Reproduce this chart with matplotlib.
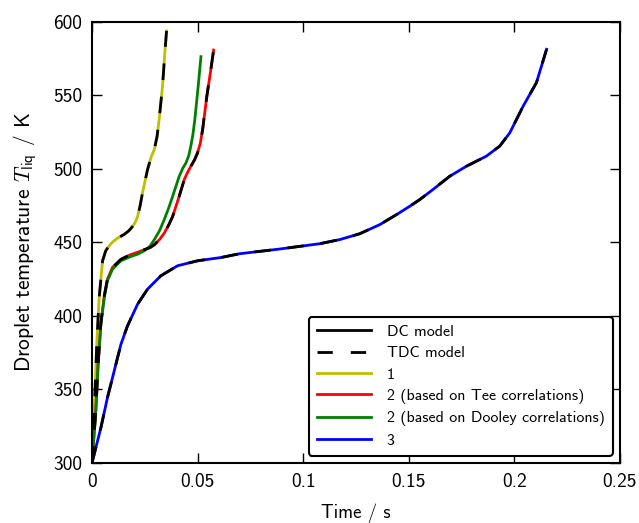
import matplotlib

matplotlib.use("Agg")
import matplotlib.pyplot as plt
from matplotlib.lines import Line2D

plt.rcParams["font.family"] = ["cmss10", "DejaVu Sans"]
plt.rcParams["mathtext.fontset"] = "custom"
plt.rcParams["mathtext.rm"] = "cmss10"
plt.rcParams["mathtext.it"] = "cmmi10"
plt.rcParams["axes.unicode_minus"] = False
plt.rcParams["lines.scale_dashes"] = False

# case 1
t1 = [0, 0.0013, 0.0023, 0.0034, 0.0050, 0.0065, 0.0080, 0.0097, 0.0120,
      0.0153, 0.0175, 0.0192, 0.0206, 0.0216, 0.0228, 0.0239, 0.0263,
      0.0280, 0.0295, 0.0308, 0.0318, 0.0334, 0.0345, 0.0353]
T1 = [300, 344.3, 383, 412.5, 437.5, 444.3, 447.5, 450.2, 452.8,
      455.5, 458, 460.9, 464, 467.7, 475, 483.7, 499.6,
      508, 513.2, 522, 533.7, 556.4, 579.1, 593.9]

# case 2, Tee correlations
t2a = [0, 0.0018, 0.0029, 0.0042, 0.0058, 0.0073, 0.0097, 0.0137, 0.0180,
       0.0216, 0.0247, 0.0275, 0.0295, 0.0320, 0.0342, 0.0362, 0.0382,
       0.0413, 0.0437, 0.0452, 0.0468, 0.0485, 0.0500, 0.0513, 0.0524,
       0.0544, 0.0563, 0.0576]
T2a = [300, 335.5, 367.5, 395, 413.5, 425, 433, 438.5, 441.5,
       443.3, 445, 446.5, 448.4, 452, 456.3, 461.5, 467.7,
       481.4, 492.8, 497.5, 501.8, 506, 511, 517.5, 526.9,
       549.6, 567.8, 580.9]

# case 2, Dooley correlations
t2b = [0, 0.0018, 0.0029, 0.0042, 0.0058, 0.0073, 0.0097, 0.0137, 0.0180,
       0.0216, 0.0250, 0.0275, 0.0295, 0.0320, 0.0342, 0.0362, 0.0382,
       0.0413, 0.0430, 0.0445, 0.0458, 0.0468, 0.0478, 0.0487, 0.0503,
       0.0516]
T2b = [300, 335.2, 367, 394.3, 412.5, 423.9, 431.8, 437.5, 440.2,
       442, 444.5, 447.5, 451.9, 458, 465.5, 473, 481.4,
       495, 500.5, 504.1, 509, 515.5, 523.5, 533.7, 556.4,
       576.4]

# case 3
t3 = [0, 0.0042, 0.0073, 0.0105, 0.0137, 0.0168, 0.0216, 0.0263, 0.0326,
      0.0405, 0.0500, 0.0610, 0.0699, 0.0794, 0.0889, 0.0983, 0.1078,
      0.1173, 0.1268, 0.1363, 0.1442, 0.1505, 0.1552, 0.1615, 0.1694,
      0.1773, 0.1868, 0.1931, 0.1979, 0.2042, 0.2105, 0.2153]
T3 = [300, 323.9, 344.3, 362.5, 380.7, 393.2, 408, 418.2, 427.3,
      434.1, 437.5, 439.7, 442.3, 443.9, 445.5, 447.3, 449.1,
      451.9, 455.9, 462.1, 468.9, 474.6, 479.1, 486, 495,
      501.8, 508.7, 515.5, 524.6, 542.7, 558.7, 581.4]

labels = ["DC model", "TDC model", "1", "2 (based on Tee correlations)",
          "2 (based on Dooley correlations)", "3"]

fig = plt.figure(figsize=(6.39, 5.23), dpi=100)
ax = fig.add_axes([0.144, 0.115, 0.826, 0.843])

dash = (12, 12)
lw = 2.0
ax.plot(t1, T1, color="y", lw=lw)
ax.plot(t2a, T2a, color="r", lw=lw)
ax.plot(t2b, T2b, color="g", lw=lw)
ax.plot(t3, T3, color="b", lw=lw)
for t, T in [(t1, T1), (t2a, T2a), (t3, T3)]:
    ax.plot(t, T, color="k", lw=lw, dashes=dash)

handles = [
    Line2D([], [], color="k", lw=lw),
    Line2D([], [], color="k", lw=lw, dashes=(11, 13)),
    Line2D([], [], color="y", lw=lw),
    Line2D([], [], color="r", lw=lw),
    Line2D([], [], color="g", lw=lw),
    Line2D([], [], color="b", lw=lw),
]
leg = ax.legend(handles, labels, loc="lower right", fontsize=11.5,
                handlelength=3.4, handletextpad=1.0, labelspacing=0.45,
                borderaxespad=0.45, borderpad=0.5,
                fancybox=True, framealpha=1)
leg.get_frame().set_edgecolor("k")
leg.get_frame().set_linewidth(1.5)

ax.set_xlim(0, 0.25)
ax.set_ylim(300, 600)
ax.set_xticks([0, 0.05, 0.1, 0.15, 0.2, 0.25])
ax.set_xticklabels(["0", "0.05", "0.1", "0.15", "0.2", "0.25"])
ax.set_yticks([300, 350, 400, 450, 500, 550, 600])
ax.tick_params(direction="in", top=True, right=True, length=7, width=1,
               labelsize=14, pad=7)
for s in ax.spines.values():
    s.set_linewidth(1.5)
ax.set_xlabel("Time / s", fontsize=13.5, labelpad=9)
ax.set_ylabel("Droplet temperature $T_{\\rm liq}$ / K", fontsize=15.5,
              labelpad=10)

fig.savefig("out.png", dpi=100)
